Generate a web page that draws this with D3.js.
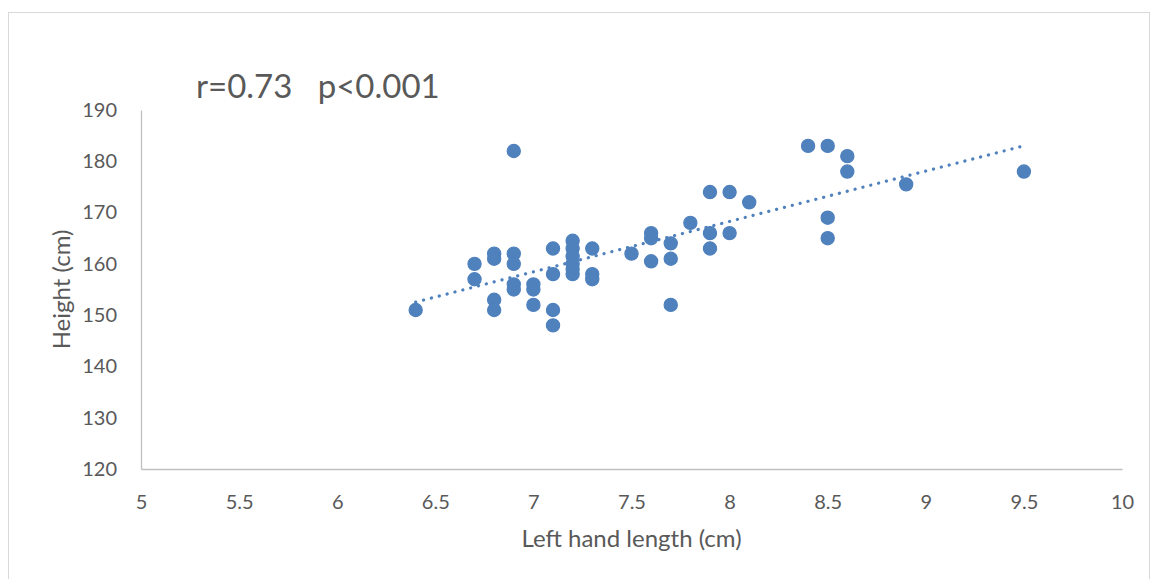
<!DOCTYPE html>
<html>
<head>
<meta charset="utf-8">
<script src="https://cdn.jsdelivr.net/npm/d3@7"></script>
<style>
  body { margin: 0; background: #fff; }
  text { font-family: Lato, "Open Sans", sans-serif; fill: #595959; }
</style>
</head>
<body>
<script>
// left hand length (cm) and height (cm)
var handLength = [
  6.4,
  6.7, 6.7,
  6.8, 6.8, 6.8, 6.8,
  6.9, 6.9, 6.9, 6.9, 6.9,
  7.0, 7.0, 7.0,
  7.1, 7.1, 7.1, 7.1,
  7.2, 7.2, 7.2, 7.2, 7.2, 7.2,
  7.3, 7.3, 7.3,
  7.5,
  7.6, 7.6, 7.6,
  7.7, 7.7, 7.7,
  7.8,
  7.9, 7.9, 7.9,
  8.0, 8.0,
  8.1,
  8.4,
  8.5, 8.5, 8.5,
  8.6, 8.6,
  8.9,
  9.5
];
var heightCm = [
  151,
  160, 157,
  162, 161, 153, 151,
  182, 162, 160, 156, 155,
  156, 155, 152,
  163, 158, 151, 148,
  164.5, 163, 161.5, 160, 159, 158,
  163, 158, 157,
  162,
  166, 165, 160.5,
  164, 161, 152,
  168,
  174, 166, 163,
  174, 166,
  172,
  183,
  183, 169, 165,
  181, 178,
  175.5,
  178
];
var xTicks = [5, 5.5, 6, 6.5, 7, 7.5, 8, 8.5, 9, 9.5, 10];
var yTicks = [120, 130, 140, 150, 160, 170, 180, 190];
var statsLabel = "r=0.73   p<0.001";

var W = 1150, H = 579;
var margin = {top: 110, right: 28, bottom: 110, left: 141};
var width = W - margin.left - margin.right,
    height = H - margin.top - margin.bottom;

var svg = d3.select("body").append("svg")
  .attr("width", W)
  .attr("height", H);

// chart area border
svg.append("rect")
  .attr("x", 8.5).attr("y", 12.5)
  .attr("width", W - 9).attr("height", H)
  .attr("fill", "none")
  .attr("stroke", "#d9d9d9");

var g = svg.append("g")
  .attr("transform", "translate(" + margin.left + "," + margin.top + ")");

var x = d3.scaleLinear().domain([5, 10]).range([0, width]);
var y = d3.scaleLinear().domain([120, 190]).range([height, 0]);

var xAxis = d3.axisBottom(x).tickValues(xTicks).tickSize(0).tickPadding(26)
  .tickFormat(d3.format("~g"));
var yAxis = d3.axisLeft(y).tickValues(yTicks).tickSize(0).tickPadding(24);

var gx = g.append("g").attr("transform", "translate(0," + height + ")").call(xAxis);
var gy = g.append("g").call(yAxis);
[gx, gy].forEach(function(a) {
  a.select(".domain").attr("stroke", "#bfbfbf").attr("stroke-width", 1.3);
  a.selectAll("text").style("font-size", "20px").attr("fill", "#595959")
    .style("font-family", "Lato, sans-serif");
});

// points
var pts = d3.zip(handLength, heightCm);
g.selectAll("circle.pt").data(pts).enter().append("circle")
  .attr("class", "pt")
  .attr("cx", function(d) { return x(d[0]); })
  .attr("cy", function(d) { return y(d[1]); })
  .attr("r", 6.6)
  .attr("fill", "#4f81bd")
  .attr("stroke", "#4f81bd")
  .attr("stroke-width", 1.2);

// linear trend line (least squares)
var mx = d3.mean(handLength), my = d3.mean(heightCm);
var sxy = d3.sum(pts, function(d) { return (d[0] - mx) * (d[1] - my); });
var sxx = d3.sum(handLength, function(v) { return (v - mx) * (v - mx); });
var slope = sxy / sxx, icpt = my - slope * mx;
var ext = d3.extent(handLength);
g.append("path")
  .datum(ext.map(function(v) { return [v, icpt + slope * v]; }))
  .attr("d", d3.line().x(function(d) { return x(d[0]); }).y(function(d) { return y(d[1]); }))
  .attr("fill", "none")
  .attr("stroke", "#4f81bd")
  .attr("stroke-width", 3.2)
  .attr("stroke-linecap", "round")
  .attr("stroke-dasharray", "0.1 8");

// axis titles
svg.append("text")
  .attr("x", margin.left + width / 2).attr("y", 547)
  .attr("text-anchor", "middle")
  .style("font-size", "24px")
  .text("Left hand length (cm)");

svg.append("text")
  .attr("transform", "translate(70," + (margin.top + height / 2) + ") rotate(-90)")
  .attr("text-anchor", "middle")
  .style("font-size", "24px")
  .text("Height (cm)");

svg.append("text")
  .attr("x", 196).attr("y", 98)
  .style("font-size", "33px")
  .style("white-space", "pre")
  .attr("xml:space", "preserve")
  .text(statsLabel);
</script>
</body>
</html>
